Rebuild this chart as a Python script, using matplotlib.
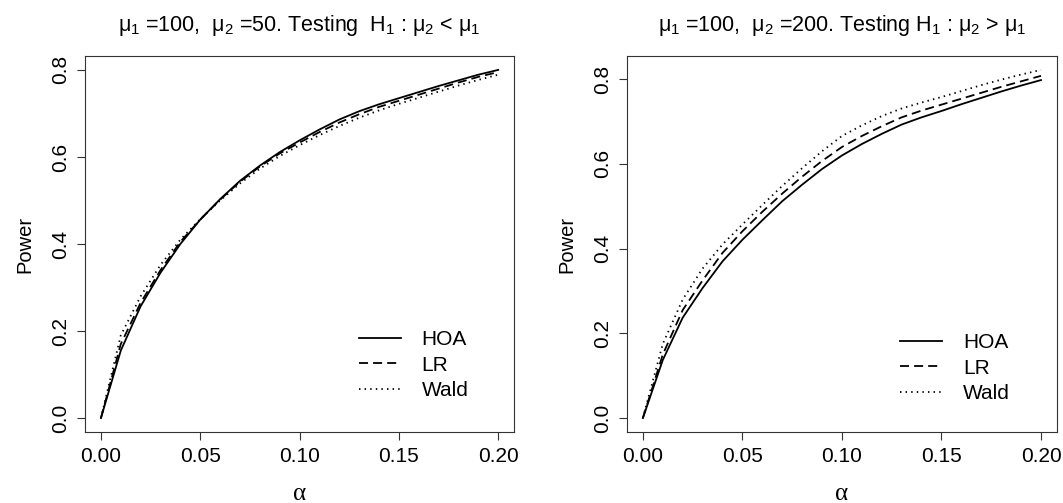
import numpy as np
import matplotlib
matplotlib.use("Agg")
import matplotlib.pyplot as plt

plt.rcParams["font.family"] = ["Liberation Sans", "DejaVu Sans"]
plt.rcParams["mathtext.fontset"] = "custom"
plt.rcParams["mathtext.rm"] = "Liberation Sans"
plt.rcParams["mathtext.it"] = "Liberation Sans"

# significance levels
alpha = [0.00, 0.01, 0.02, 0.03, 0.04, 0.05, 0.06, 0.07, 0.08, 0.09, 0.10,
         0.11, 0.12, 0.13, 0.14, 0.15, 0.16, 0.17, 0.18, 0.19, 0.20]

# mu1=100, mu2=50, H1: mu2 < mu1
hoa_left = [0, 0.155, 0.257, 0.334, 0.400, 0.456, 0.503, 0.545, 0.580, 0.611, 0.638,
            0.663, 0.686, 0.705, 0.721, 0.735, 0.749, 0.763, 0.776, 0.789, 0.800]
lr_left = [0, 0.170, 0.265, 0.340, 0.405, 0.456, 0.502, 0.543, 0.578, 0.608, 0.633,
           0.657, 0.679, 0.698, 0.715, 0.729, 0.743, 0.757, 0.771, 0.784, 0.795]
wald_left = [0, 0.190, 0.280, 0.352, 0.410, 0.457, 0.500, 0.539, 0.573, 0.602, 0.627,
             0.650, 0.671, 0.690, 0.707, 0.722, 0.736, 0.750, 0.764, 0.777, 0.789]

# mu1=100, mu2=200, H1: mu2 > mu1
hoa_right = [0, 0.137, 0.237, 0.307, 0.370, 0.421, 0.467, 0.512, 0.551, 0.588, 0.620,
             0.647, 0.671, 0.693, 0.710, 0.725, 0.741, 0.756, 0.771, 0.785, 0.798]
lr_right = [0, 0.150, 0.255, 0.325, 0.390, 0.441, 0.487, 0.530, 0.570, 0.607, 0.640,
            0.666, 0.689, 0.710, 0.726, 0.740, 0.754, 0.768, 0.782, 0.795, 0.808]
wald_right = [0, 0.175, 0.280, 0.353, 0.410, 0.457, 0.503, 0.548, 0.590, 0.630, 0.666,
              0.691, 0.713, 0.731, 0.745, 0.758, 0.772, 0.786, 0.799, 0.811, 0.822]

titles = [r"$\mu_1$ =100,  $\mu_2$ =50. Testing  H$_1$ : $\mu_2$ < $\mu_1$",
          r"$\mu_1$ =100,  $\mu_2$ =200. Testing H$_1$ : $\mu_2$ > $\mu_1$"]
labels = ["HOA", "LR", "Wald"]
xticks = [0.00, 0.05, 0.10, 0.15, 0.20]
yticks = [0.0, 0.2, 0.4, 0.6, 0.8]

fig = plt.figure(figsize=(10.63, 5.03), dpi=100)
ax1 = fig.add_axes([0.0800, 0.1412, 0.4036, 0.7475])
ax2 = fig.add_axes([0.5898, 0.1412, 0.4045, 0.7475])

styles = [dict(ls="-"), dict(ls=(0, (5, 2.8))), dict(ls=(0, (0.8, 2.3)))]
panels = [(ax1, [hoa_left, lr_left, wald_left], (0.639, 0.178)),
          (ax2, [hoa_right, lr_right, wald_right], (0.636, 0.170))]

for i, (ax, series, anchor) in enumerate(panels):
    for vals, st, lab in zip(series, styles, labels):
        ax.plot(alpha, vals, color="black", lw=1.3, label=lab, **st)
    ax.margins(x=0.04, y=0.04)
    ax.set_xticks(xticks)
    ax.set_xticklabels(["%.2f" % t for t in xticks], fontsize=15)
    ax.set_yticks(yticks)
    ax.set_yticklabels(["%.1f" % t for t in yticks], fontsize=15,
                       rotation=90, va="center")
    ax.tick_params(direction="out", length=6, width=0.8, color="#333333", pad=5)
    for sp in ax.spines.values():
        sp.set_linewidth(0.8)
        sp.set_color("#333333")
    ax.set_ylabel("Power", fontsize=14.5, labelpad=12)
    ax.set_xlabel("α", fontsize=18, family="Liberation Serif", labelpad=12)
    ax.set_title(titles[i], fontsize=15.5, pad=18)
    ax.legend(loc="center left", bbox_to_anchor=anchor, frameon=False,
              fontsize=15, handlelength=2.0, handletextpad=1.0,
              labelspacing=0.3, borderpad=0, borderaxespad=0)

fig.savefig("out.png", dpi=100)
